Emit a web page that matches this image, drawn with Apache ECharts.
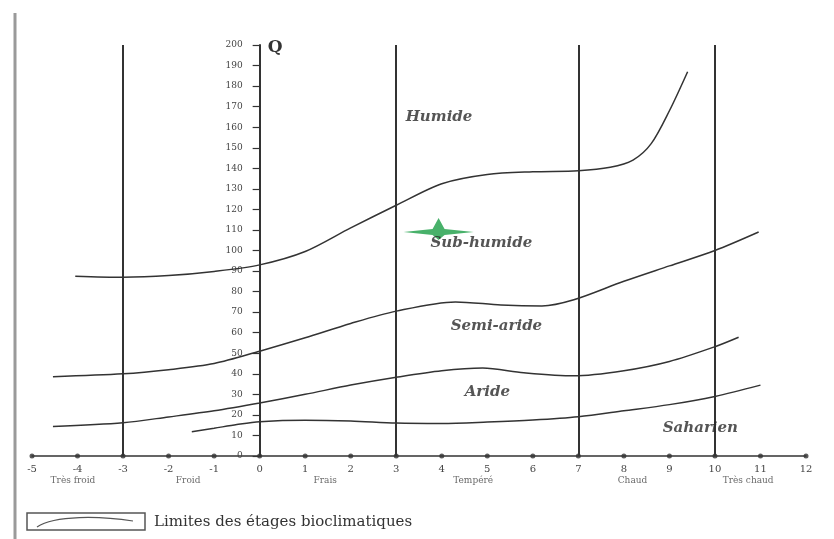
<!DOCTYPE html>
<html>
<head>
<meta charset="utf-8">
<script src="https://cdn.jsdelivr.net/npm/echarts@6/dist/echarts.min.js"></script>
<style>
html,body{margin:0;padding:0;background:#fff;}
#chart{width:834px;height:539px;}
</style>
</head>
<body>
<div id="chart"></div>
<script>
// ---- data ----
const xTicks = [-5,-4,-3,-2,-1,0,1,2,3,4,5,6,7,8,9,10,11,12];
const boundaryTemps = [-3, 3, 7, 10];
const curveHumide = [[-4.05,87.5],[-3,87],[-2,87.8],[-1,89.8],[0,93],[1,99.5],[2,111],[3,122],[4,132.5],[5,137],[6,138.3],[7,138.8],[7.7,140.5],[8.2,144],[8.6,152],[9,168],[9.4,187]];
const curveSubHumide = [[-4.54,38.6],[-3,40],[-2,42],[-1,45],[0,51],[1,57.5],[2,64.5],[3,70.5],[4.3,75],[5.3,73.5],[6.2,73],[6.9,76],[8,85],[9,92.5],[10,100],[10.96,109]];
const curveSemiAride = [[-4.54,14.3],[-3,16.2],[-2,19],[-1,22],[0,25.8],[1,30],[2,34.5],[3,38.3],[4,41.5],[4.9,42.8],[5.8,40.5],[6.9,39],[8,41.5],[9,46],[10,53.2],[10.52,57.8]];
const curveAride = [[-1.49,11.8],[-1,13.5],[-0.5,15.3],[0,16.7],[1,17.4],[2,17],[3,16],[4,15.8],[5,16.5],[6,17.5],[7,19.1],[8,22],[9,25],[10,29],[11,34.5]];
const station = [3.93, 109];
const zoneNames = ['Humide','Sub-humide','Semi-aride','Aride','Saharien'];
const zonePos = [[3.94,165],[4.87,103.6],[5.2,63.3],[5.0,31.1],[9.68,13.6]];
const winterNames = ['Très froid','Froid','Frais','Tempéré','Chaud','Très chaud'];
const winterPos = [-4.1,-1.57,1.44,4.69,8.19,10.73];
const legendText = 'Limites des étages bioclimatiques';

const lineColor = '#333';
const serif = 'DejaVu Serif';
const gridLeft = 32, gridRight = 28;
const plotW = 834 - gridLeft - gridRight;
const xMin = -5, xMax = 12;

function curve(data){
  return {type:'line', data:data, smooth:0.3, showSymbol:false, symbol:'none',
    lineStyle:{color:lineColor, width:1.5}, silent:true, z:3};
}

const chart = echarts.init(document.getElementById('chart'));
chart.setOption({
  animation:false,
  backgroundColor:'#ffffff',
  grid:{left:gridLeft, right:gridRight, top:45, bottom:83, containLabel:false},
  xAxis:{type:'value', min:xMin, max:xMax, interval:1,
    axisLine:{show:true, onZero:true, lineStyle:{color:'#333', width:1.5}},
    axisTick:{show:false},
    axisLabel:{show:true, margin:8, fontSize:10, fontFamily:serif, color:'#444'},
    splitLine:{show:false}},
  yAxis:{type:'value', min:0, max:200, interval:10, position:'left',
    offset: -plotW * (0 - xMin) / (xMax - xMin),
    name:'Q', nameLocation:'end', nameGap:-3,
    nameTextStyle:{align:'left', verticalAlign:'middle', padding:[0,0,0,8], fontSize:17, fontWeight:'bold', fontFamily:serif, color:'#333'},
    axisLine:{show:true, onZero:false, lineStyle:{color:'#333', width:2}},
    axisTick:{show:true, length:7, lineStyle:{color:'#333', width:1.2}},
    axisLabel:{show:true, margin:17, fontSize:9, fontFamily:serif, color:'#444'},
    splitLine:{show:false}},
  series:[
    {type:'line', data:[], silent:true,
      markLine:{symbol:['none','none'], silent:true, label:{show:false},
        lineStyle:{color:'#333', width:2, type:'solid'},
        data:boundaryTemps.map(v=>({xAxis:v}))}},
    curve(curveHumide),
    curve(curveSubHumide),
    curve(curveSemiAride),
    curve(curveAride),
    {type:'scatter', data:xTicks.map(t=>[t,0]), symbolSize:5, itemStyle:{color:'#333'}, silent:true, z:4},
    {type:'scatter', data:[station], symbol:'path://M0,-14 L6,-3 L35,0 L6,3 L0,8 L-6,3 L-35,0 L-6,-3 Z',
      symbolSize:[70,22], symbolOffset:[0,-3], itemStyle:{color:'#1a9e45'}, silent:true, z:5},
    {type:'scatter', data:zonePos.map((p,i)=>({value:p, name:zoneNames[i]})), symbolSize:0, silent:true, z:6,
      label:{show:true, position:'inside', formatter:'{b}', fontFamily:serif, fontStyle:'italic', fontWeight:'bold', fontSize:15, color:'#2a2a2a'}},
    {type:'scatter', data:winterPos.map((p,i)=>({value:[p,0], name:winterNames[i]})), symbolSize:0, silent:true, z:6,
      label:{show:true, position:'bottom', distance:20, formatter:'{b}', fontFamily:serif, fontSize:9, color:'#444'}}
  ],
  graphic:[
    {type:'line', shape:{x1:15, y1:13, x2:15, y2:539}, style:{stroke:'#9a9a9a', lineWidth:3}},
    {type:'rect', shape:{x:27, y:513, width:118, height:17}, style:{fill:'none', stroke:'#555', lineWidth:1.5}},
    {type:'bezierCurve', shape:{x1:37, y1:527, cpx1:55, cpy1:515, cpx2:100, cpy2:516, x2:133, y2:521}, style:{fill:'none', stroke:'#555', lineWidth:1.2}},
    {type:'text', x:154, y:522, style:{text:legendText, fontFamily:serif, fontSize:15, fill:'#333', verticalAlign:'middle', align:'left'}}
  ]
});
</script>
</body>
</html>
